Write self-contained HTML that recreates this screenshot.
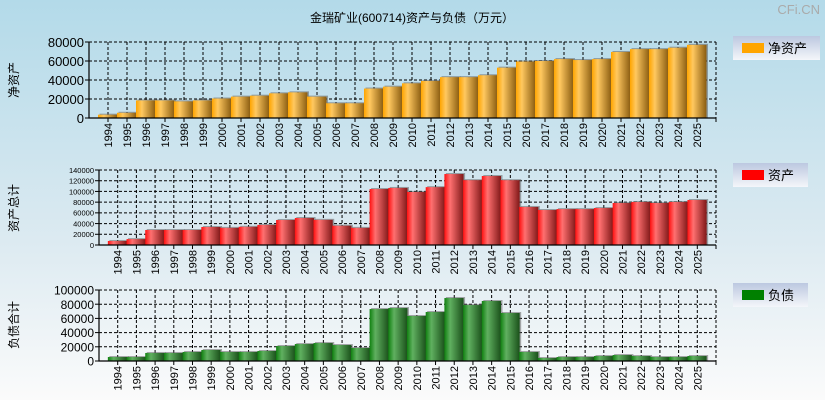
<!DOCTYPE html>
<html><head><meta charset="utf-8"><style>
html,body{margin:0;padding:0;overflow:hidden}
body{width:825px;height:400px;overflow:hidden;background:linear-gradient(#b3dae9,#dceaf1 60%,#fbfbfb) no-repeat;background-size:825px 400px;font-family:"Liberation Sans","Noto Sans CJK SC",sans-serif}
svg{display:block}
</style></head><body>
<svg id="c" width="825" height="400" xmlns="http://www.w3.org/2000/svg">
<defs>
<linearGradient id="gO" x1="0" x2="1"><stop offset="0" stop-color="#ffa500"/><stop offset="0.3" stop-color="#ffc860"/><stop offset="1" stop-color="#8a5c10"/></linearGradient>
<linearGradient id="gR" x1="0" x2="1"><stop offset="0" stop-color="#ff1010"/><stop offset="0.3" stop-color="#ff7070"/><stop offset="1" stop-color="#801818"/></linearGradient>
<linearGradient id="gG" x1="0" x2="1"><stop offset="0" stop-color="#108010"/><stop offset="0.3" stop-color="#60b060"/><stop offset="1" stop-color="#1a501a"/></linearGradient>
<linearGradient id="gL" x1="0" x2="0" y1="0" y2="1"><stop offset="0" stop-color="#bcc8e0"/><stop offset="1" stop-color="#f4f6fa"/></linearGradient>
</defs>
<text x="412" y="22" font-size="12" text-anchor="middle">金瑞矿业(600714)资产与负债（万元）</text>
<text x="820" y="14" font-size="13" fill="#aaa" text-anchor="end">CFi.CN</text>
</svg>
<script>
const years=['1994','1995','1996','1997','1998','1999','2000','2001','2002','2003','2004','2005','2006','2007','2008','2009','2010','2011','2012','2013','2014','2015','2016','2017','2018','2019','2020','2021','2022','2023','2024','2025'];
const netAssets=[3500,5500,18500,18500,17500,18500,20500,22500,23500,26000,27000,22500,15500,15500,31000,33000,36500,39000,43000,43000,45000,53000,59500,60000,62000,61000,62000,69500,72500,72500,74000,77000];
const totalAssets=[7500,11000,28000,28000,28000,33600,32000,34000,37500,46700,50400,47000,36000,32000,104500,106500,99000,108000,132500,121000,128800,121000,71000,65300,67000,67000,69000,78400,80300,78400,80300,84000];
const liabilities=[5600,5600,11300,11300,12700,15500,12700,12700,14100,21100,23900,25300,22500,18300,73200,74600,63400,69000,88700,78800,84500,67600,12700,4200,5600,5600,7000,8400,7000,5600,5600,7000];
const ticks1=[0,20000,40000,60000,80000];
const ticks2=[0,20000,40000,60000,80000,100000,120000,140000];
const ticks3=[0,20000,40000,60000,80000,100000];
const NS='http://www.w3.org/2000/svg';
const svg=document.getElementById('c');
function mk(tag,attrs,parent){const e=document.createElementNS(NS,tag);for(const k in attrs)e.setAttribute(k,attrs[k]);(parent||svg).appendChild(e);return e;}
function panel(cfg){
  const {L,R,T,B,max,ticks,data,grad,fs,title,ty,legend,ly,lw,key}=cfg;
  const g=mk('g',{});
  
  
  const band=(R-L)/33;
  const xs=i=>L+band*(i+1);
  const ys=v=>B-(v/max)*(B-T);
  ticks.forEach(t=>{if(t>0){const l=mk('line',{x1:L,x2:R,y1:ys(t),y2:ys(t),stroke:'#000','stroke-dasharray':'3,2','stroke-width':1},g);
    }});
  years.forEach((y,i)=>{const l=mk('line',{x1:xs(i),x2:xs(i),y1:T,y2:B,stroke:'#000','stroke-dasharray':'3,2'},g);
    });
  mk('line',{x1:R,x2:R,y1:T,y2:B,stroke:'#000','stroke-dasharray':'3,2'},g);
  data.forEach((v,i)=>{
    const x0=xs(i)-band/2-0.5, w=band+0.5;
    const s=mk('rect',{x:x0+1.5,y:ys(v)-1,width:w,height:B-ys(v)+1,fill:'#555',opacity:0.5},g);
    
    const r=mk('rect',{x:x0,y:ys(v),width:w,height:B-ys(v),fill:'url(#'+grad+')'},g);
    
    
  });
  const ax=mk('path',{d:`M${L},${T} V${B} H${R}`,stroke:'#000',fill:'none','stroke-width':1.2},g);
  
  ticks.forEach(t=>{mk('line',{x1:L-4,x2:L,y1:ys(t),y2:ys(t),stroke:'#000'},g);
    const tx=mk('text',{x:L-5,y:ys(t)+fs*0.38,'font-size':fs,'text-anchor':'end'},g);tx.textContent=t;
    });
  years.forEach((y,i)=>{mk('line',{x1:xs(i),x2:xs(i),y1:B,y2:B+4,stroke:'#000'},g);
    const tx=mk('text',{x:0,y:0,'font-size':11,'text-anchor':'end',transform:`translate(${xs(i)+4},${B+5}) rotate(-90)`},g);tx.textContent=y;
    });
  mk('line',{x1:R,x2:R,y1:B,y2:B+4,stroke:'#000'},g);
  const tt=mk('text',{x:0,y:0,'font-size':12,'text-anchor':'middle',transform:`translate(18,${ty}) rotate(-90)`},g);tt.textContent=title;
  
  const lg=mk('g',{},g);
  
  mk('rect',{x:733,y:ly,width:lw,height:24,fill:'url(#gL)'},lg);
  mk('rect',{x:742,y:ly+7,width:22,height:10,fill:cfg.sw},lg);
  const lt=mk('text',{x:768,y:ly+17,'font-size':13},lg);lt.textContent=legend;
}
panel({key:'net-assets',L:89,R:716,T:42,B:118,max:80000,ticks:ticks1,data:netAssets,grad:'gO',fs:13,title:'净资产',ty:80,legend:'净资产',ly:36,lw:87,sw:'#ffa500'});
panel({key:'total-assets',L:99,R:716,T:170,B:245,max:140000,ticks:ticks2,data:totalAssets,grad:'gR',fs:7.5,title:'资产总计',ty:208,legend:'资产',ly:163,lw:75,sw:'#ff0000'});
panel({key:'liabilities',L:99,R:716,T:290,B:361,max:100000,ticks:ticks3,data:liabilities,grad:'gG',fs:12,title:'负债合计',ty:325,legend:'负债',ly:283,lw:75,sw:'#008000'});
</script>
</body></html>
